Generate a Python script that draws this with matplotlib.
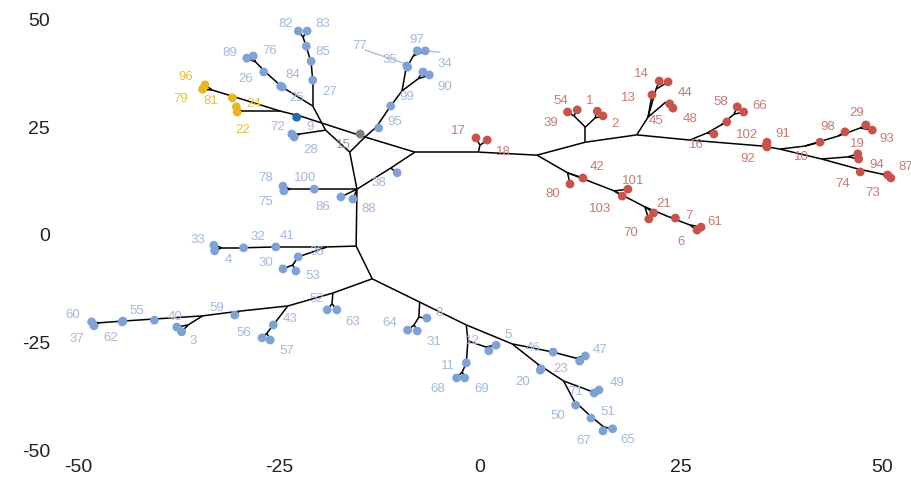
import matplotlib.pyplot as plt
from matplotlib.collections import LineCollection

plt.rcParams['font.family'] = ['Liberation Sans', 'DejaVu Sans']
plt.rcParams['axes.unicode_minus'] = False

# tip positions (x, y) by colour group
red_tips = {
    "17": (-0.5, 22.3), "18": (0.9, 21.8),
    "54": (10.9, 28.3), "39": (12.1, 28.8), "1": (14.6, 28.5), "2": (15.3, 27.4),
    "13": (21.4, 32.3), "14": (22.3, 35.5), "44": (23.4, 35.3), "45": (23.6, 30.2), "48": (24.0, 29.2),
    "16": (29.1, 23.2), "r1": (30.7, 26.0), "58": (32.0, 29.5), "66": (32.8, 28.3),
    "102": (35.7, 21.3), "91": (35.7, 20.2), "92": (35.6, 20.6),
    "10": (42.3, 21.3), "98": (45.4, 23.7), "29": (48.0, 25.3), "93": (48.8, 24.1),
    "19": (47.0, 18.6), "94": (47.1, 17.4), "74": (47.3, 14.4), "73": (50.7, 13.7), "87": (51.1, 13.0),
    "80": (11.2, 11.6), "42": (12.8, 13.0), "101": (18.4, 10.4), "103": (17.7, 8.8),
    "21": (21.6, 4.9), "70": (21.0, 3.5), "7": (24.3, 3.7), "6": (27.0, 0.9), "61": (27.5, 1.6),
}

blue_tips = {
    "97": (-7.8, 42.5), "34": (-6.8, 42.5), "35": (-9.1, 39.0), "77": (-9.0, 38.7),
    "90": (-7.1, 37.6), "b1": (-6.3, 36.9), "99": (-11.1, 29.7), "95": (-12.6, 24.6),
    "28": (-23.4, 23.2), "72": (-23.1, 22.5),
    "82": (-22.6, 47.1), "83": (-21.5, 47.1), "b2": (-21.6, 43.6), "85": (-21.0, 40.1), "27": (-20.8, 35.7),
    "89": (-29.0, 40.8), "76": (-28.2, 41.3), "26": (-26.9, 37.6), "84": (-24.8, 34.3), "25": (-24.6, 34.1),
    "100": (-20.6, 10.4), "78": (-24.5, 11.1), "75": (-24.4, 10.0), "86": (-17.3, 8.6), "88": (-15.8, 8.1),
    "38": (-10.3, 14.2),
    "33": (-33.1, -2.6), "4": (-33.0, -3.9), "32": (-29.4, -3.2), "41": (-25.4, -3.0),
    "36": (-22.6, -5.3), "30": (-24.5, -8.1), "53": (-22.9, -8.6),
    "52": (-19.0, -17.6), "63": (-17.8, -17.6), "43": (-25.7, -21.1), "56": (-27.1, -24.1), "57": (-26.1, -24.6),
    "59": (-30.5, -18.8), "3": (-37.7, -21.6), "b3": (-37.1, -22.7), "40": (-40.5, -20.0),
    "55": (-44.4, -20.2), "62": (-44.5, -20.4), "60": (-48.3, -20.4), "37": (-48.0, -21.3),
    "8": (-6.6, -19.5), "64": (-9.0, -22.3), "31": (-7.8, -22.5),
    "11": (-1.7, -29.9), "68": (-2.9, -33.4), "69": (-1.9, -33.4), "12": (1.1, -27.1), "5": (2.0, -25.8),
    "46": (9.1, -27.4), "47": (12.4, -29.5), "b4": (13.1, -28.3), "20": (7.5, -31.6), "23": (7.6, -31.3),
    "49": (14.2, -36.9), "71": (14.8, -36.2), "50": (11.9, -39.7), "51": (13.8, -42.7),
    "67": (15.3, -45.7), "65": (16.5, -45.2),
}

yellow_tips = {
    "96": (-34.2, 34.6), "79": (-34.5, 33.6), "24": (-30.8, 31.6), "81": (-30.3, 29.5), "22": (-30.2, 28.3),
}

dark_tips = {"9": (-22.8, 27.1)}
grey_tips = {"15": (-14.9, 23.2)}

# internal (branching) nodes
inner = {
    "R": (-8.1, 19.0), "J17": (-0.2, 19.0), "J17b": (0.0, 20.6), "Jred": (7.1, 18.3),
    "J1": (13.1, 21.3), "J1v": (13.1, 24.8), "J54": (11.7, 27.4), "J2": (14.3, 26.9),
    "J13": (19.5, 23.0), "J45": (20.9, 27.1), "J14": (21.9, 33.6), "J48": (23.1, 30.6),
    "J16": (26.1, 21.8), "Ja": (28.2, 23.4), "Jb": (30.0, 25.3), "Jc": (31.6, 27.8),
    "J91": (35.2, 20.4), "J10": (37.3, 19.7), "Jh": (40.4, 20.4), "Ji": (44.5, 22.7), "Jj": (47.3, 24.6),
    "Jd": (42.5, 17.4), "Je": (45.8, 17.9), "Jf": (47.0, 15.1), "Jg": (50.0, 13.9),
    "J42": (10.9, 14.2), "J101": (16.7, 10.0), "J21": (20.5, 6.3), "J7": (23.6, 3.9), "J6": (26.1, 2.1),
    "JG": (-14.3, 22.5), "K95": (-12.9, 24.8), "K99": (-11.3, 29.2), "J97": (-9.7, 33.2),
    "J90": (-7.7, 36.0), "K35": (-9.2, 38.3), "J9734": (-8.3, 41.3),
    "J9": (-22.4, 27.4), "JY": (-24.8, 28.5), "J22": (-29.6, 28.5), "J24": (-30.5, 31.8), "J96": (-33.3, 33.4),
    "J15": (-16.2, 19.0), "J28": (-19.2, 24.1), "J28b": (-22.4, 23.2), "NB": (-20.8, 29.7),
    "K27": (-20.8, 35.5), "K85": (-21.0, 39.9), "K85b": (-21.6, 43.4), "J82": (-22.0, 45.7),
    "K84": (-24.6, 34.1), "K26": (-26.7, 37.6), "J89": (-27.9, 39.9),
    "K38": (-11.1, 15.3), "JA2": (-15.3, 10.4), "K100": (-20.6, 10.4), "J78": (-23.6, 10.4),
    "Jmid": (-15.4, -2.8), "K36": (-19.0, -3.0), "K41": (-25.4, -3.0), "K32": (-29.4, -3.2),
    "J33": (-32.1, -3.2), "J30": (-23.3, -7.2),
    "Jlow": (-13.4, -10.4), "J52": (-18.3, -13.7), "J63": (-18.4, -16.2), "J43": (-23.9, -16.7),
    "J56": (-26.5, -23.0), "K59": (-29.9, -17.9), "J3": (-34.5, -19.0), "J3b": (-36.3, -21.1),
    "K40": (-40.3, -19.7), "J60": (-47.3, -20.6),
    "J8": (-7.5, -15.8), "K64": (-7.6, -19.3), "J64": (-8.2, -21.1), "J12": (-1.7, -21.1),
    "K12": (-1.5, -24.8), "J12b": (0.7, -26.2), "J68": (-2.2, -32.0), "J5": (4.0, -25.5),
    "J47": (11.9, -28.8), "K20": (7.2, -30.2), "J49": (10.4, -34.1), "J49b": (13.7, -36.4),
    "K50": (11.7, -38.7), "K51": (13.6, -42.0), "J65": (15.4, -44.8),
}

edges = """
R-J17 J17-J17b J17b-17 J17b-18 J17-Jred
Jred-J1 J1-J1v J1v-J54 J54-54 J54-39 J1v-J2 J2-1 J2-2
J1-J13 J13-J45 J45-13 J45-J14 J14-14 J14-44 J45-J48 J48-45 J48-48
J13-J16 J16-Ja Ja-16 Ja-Jb Jb-r1 Jb-Jc Jc-58 Jc-66
J16-J91 J91-102 J91-91 J91-92 J91-J10
J10-Jh Jh-10 Jh-Ji Ji-98 Ji-Jj Jj-29 Jj-93
J10-Jd Jd-Je Je-19 Je-94 Jd-Jf Jf-74 Jf-Jg Jg-73 Jg-87
Jred-J42 J42-80 J42-42 J42-J101 J101-101 J101-103 J101-J21 J21-21 J21-70 J21-J7 J7-7 J7-J6 J6-6 J6-61
R-JG JG-15 JG-J15 JG-K95 K95-95 K95-K99 K99-99 K99-J97 J97-J90 J90-90 J90-b1
J97-K35 K35-35 K35-77 K35-J9734 J9734-97 J9734-34
JG-J9 J9-9 J9-JY JY-J22 J22-81 J22-22 JY-J24 J24-24 J24-J96 J96-96 J96-79
J15-J28 J28-J28b J28b-28 J28b-72 J28-NB NB-K27 K27-27 K27-K85 K85-85 K85-K85b K85b-b2 K85b-J82 J82-82 J82-83
NB-K84 K84-84 K84-25 K84-K26 K26-26 K26-J89 J89-89 J89-76
R-K38 K38-38 K38-JA2 JA2-J15 JA2-K100 K100-100 K100-J78 J78-78 J78-75 JA2-86 JA2-88 JA2-Jmid
Jmid-K36 K36-K41 K41-41 K41-K32 K32-32 K32-J33 J33-33 J33-4 K36-36 36-J30 J30-30 J30-53
Jmid-Jlow Jlow-J52 J52-J63 J63-52 J63-63 J52-J43 J43-43 43-J56 J56-56 J56-57
J43-K59 K59-59 K59-J3 J3-J3b J3b-3 J3b-b3 J3-K40 K40-40 K40-55 55-62 55-J60 J60-60 J60-37
Jlow-J8 J8-K64 K64-8 K64-J64 J64-64 J64-31 J8-J12 J12-K12 K12-J12b J12b-12 J12b-5
K12-11 11-J68 J68-68 J68-69 J12-J5 J5-46 46-J47 J47-47 J47-b4 J5-K20 K20-20 K20-23
K20-J49 J49-J49b J49b-49 J49b-71 J49-K50 K50-50 K50-K51 K51-51 K51-J65 J65-67 J65-65
""".split()

# layout: where each tip label sits
label_pos = {
    "17": (-2.7, 24.1), "18": (2.9, 19.3), "54": (10.0, 31.1), "1": (13.6, 31.1), "39": (8.8, 26.0),
    "2": (16.8, 25.8), "14": (20.1, 37.4), "13": (18.4, 31.8), "44": (25.5, 32.9), "45": (21.9, 26.5),
    "48": (26.1, 26.9), "58": (29.9, 30.9), "66": (34.8, 29.9), "16": (26.9, 20.9), "102": (33.2, 23.2),
    "91": (37.7, 23.4), "92": (33.3, 17.6), "98": (43.2, 25.1), "29": (46.9, 28.3), "93": (50.6, 22.3),
    "19": (47.0, 21.1), "10": (40.0, 18.1), "94": (49.4, 16.2), "87": (52.9, 15.8), "74": (45.1, 11.8),
    "73": (48.8, 9.7), "42": (14.6, 15.8), "80": (9.0, 9.5), "101": (19.0, 12.5), "103": (14.9, 6.0),
    "21": (22.8, 7.2), "70": (18.7, 0.5), "7": (26.0, 4.4), "61": (29.2, 3.0), "6": (25.0, -1.6),
    "97": (-7.8, 45.2), "34": (-4.4, 39.7), "90": (-4.4, 34.3), "35": (-11.2, 40.6), "77": (-14.9, 43.9),
    "99": (-9.1, 32.0), "95": (-10.6, 26.2), "15": (-17.0, 20.9), "9": (-21.1, 25.1), "72": (-25.2, 25.1),
    "28": (-21.1, 19.7), "82": (-24.1, 49.0), "83": (-19.5, 49.0), "85": (-19.5, 42.5), "27": (-18.7, 33.2),
    "89": (-31.1, 42.2), "76": (-26.1, 42.7), "26": (-29.2, 36.2), "84": (-23.3, 37.1), "25": (-22.8, 31.8),
    "100": (-21.8, 13.2), "78": (-26.6, 13.2), "75": (-26.6, 7.7), "86": (-19.5, 6.5), "88": (-13.8, 6.0),
    "38": (-12.6, 12.1), "33": (-35.1, -1.2), "32": (-27.6, -0.5), "41": (-24.0, -0.2), "4": (-31.3, -5.8),
    "30": (-26.6, -6.5), "36": (-20.3, -3.9), "53": (-20.8, -9.5), "52": (-20.3, -14.8), "63": (-15.8, -20.2),
    "43": (-23.6, -19.5), "56": (-29.4, -22.7), "57": (-24.0, -26.9), "59": (-32.7, -16.9), "40": (-37.9, -19.0),
    "3": (-35.7, -24.6), "55": (-42.7, -17.6), "62": (-45.9, -23.9), "60": (-50.6, -18.6), "37": (-50.1, -24.1),
    "8": (-5.1, -18.1), "64": (-11.2, -20.4), "31": (-5.7, -24.8), "11": (-4.0, -30.4), "68": (-5.2, -35.7),
    "69": (0.2, -35.7), "12": (-0.9, -24.6), "5": (3.5, -23.2), "46": (6.6, -26.2), "47": (15.0, -26.7),
    "23": (10.0, -31.1), "20": (5.3, -34.1), "49": (17.0, -34.3), "71": (11.9, -36.4), "50": (9.7, -42.0),
    "51": (15.9, -41.1), "67": (12.9, -47.8), "65": (18.4, -47.6),
    "96": (-36.6, 36.7), "79": (-37.2, 31.6), "81": (-33.5, 31.1), "24": (-28.2, 30.4), "22": (-29.5, 24.4),
}

groups = [
    (blue_tips, "#7ea2d6", "#a3b9dc"),
    (red_tips, "#c9534b", "#c77a72"),
    (yellow_tips, "#e8b71c", "#e2c247"),
    (dark_tips, "#1f6cb2", "#a3b9dc"),
    (grey_tips, "#808080", "#9a9a9a"),
]

pos = dict(inner)
for tips, _, _ in groups:
    pos.update(tips)

fig = plt.figure(figsize=(9.11, 4.81), dpi=100)
ax = fig.add_axes([45.8 / 911, 21.9 / 481, 864.3 / 911, 448.2 / 481])

segs = []
for e in edges:
    a, b = e.split("-")
    segs.append([pos[a], pos[b]])
ax.add_collection(LineCollection(segs, colors="black", linewidths=1.1, zorder=2))

# leader lines of the repelled labels
ax.plot([-14.3, -9.6], [42.7, 39.7], color="#a3b9dc", lw=0.9, zorder=1)
ax.plot([-6.8, -5.0], [42.5, 42.2], color="#a3b9dc", lw=0.9, zorder=1)

for tips, col, lcol in groups:
    xs = [p[0] for p in tips.values()]
    ys = [p[1] for p in tips.values()]
    ax.scatter(xs, ys, s=40, color=col, edgecolors="none", zorder=3)
    for name in tips:
        if name in label_pos:
            lx, ly = label_pos[name]
            ax.text(lx, ly, name, color=lcol, fontsize=9.5, ha="center", va="center", zorder=4)

ax.set_xlim(-54, 53.5)
ax.set_ylim(-52, 52)
ax.set_xticks([-50, -25, 0, 25, 50])
ax.set_yticks([-50, -25, 0, 25, 50])
for s in ax.spines.values():
    s.set_visible(False)
ax.tick_params(length=0, labelsize=14, labelcolor="#222222")
ax.tick_params(axis="y", pad=-3)
ax.tick_params(axis="x", pad=0)

fig.savefig("out.png", dpi=100)
